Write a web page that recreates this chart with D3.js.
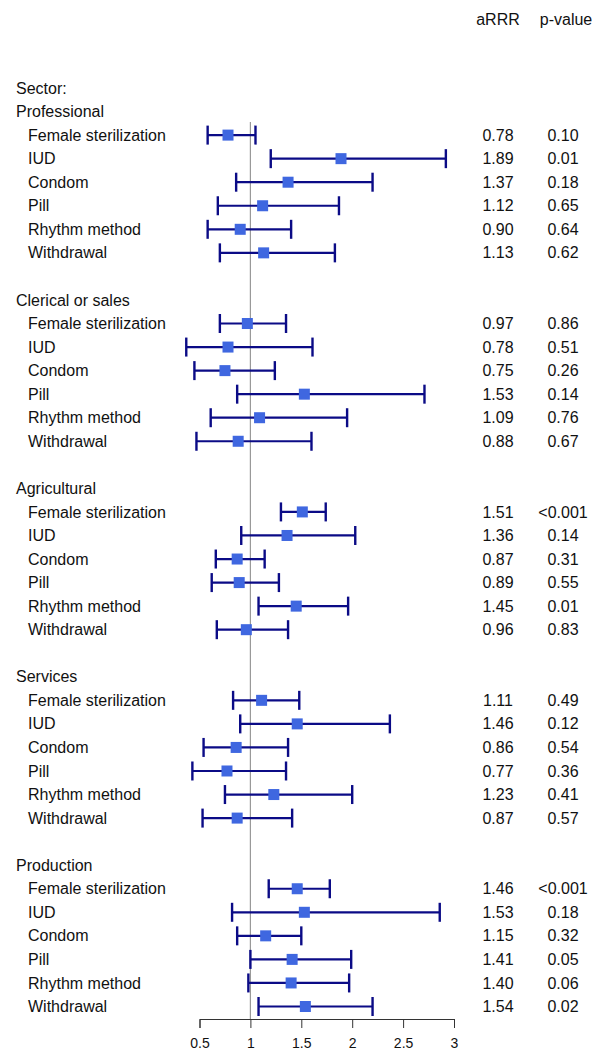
<!DOCTYPE html>
<html>
<head>
<meta charset="utf-8">
<script src="https://cdn.jsdelivr.net/npm/d3@7"></script>
<style>
  body { margin: 0; background: #fff; }
  text { font-family: "Liberation Sans", Arial, sans-serif; fill: #111; }
</style>
</head>
<body>
<svg id="chart" width="592" height="1053"></svg>
<script>
// categories
const sectors = ["Professional", "Clerical or sales", "Agricultural", "Services", "Production"];
const methods = ["Female sterilization", "IUD", "Condom", "Pill", "Rhythm method", "Withdrawal"];
const xTicks = [0.5, 1, 1.5, 2, 2.5, 3];

// adjusted relative risk ratios, one array per sector (same order as methods)
const arrrProfessional = [0.78, 1.89, 1.37, 1.12, 0.90, 1.13];
const arrrClerical     = [0.97, 0.78, 0.75, 1.53, 1.09, 0.88];
const arrrAgricultural = [1.51, 1.36, 0.87, 0.89, 1.45, 0.96];
const arrrServices     = [1.11, 1.46, 0.86, 0.77, 1.23, 0.87];
const arrrProduction   = [1.46, 1.53, 1.15, 1.41, 1.40, 1.54];

// 95% CI lower bounds
const loProfessional = [0.58, 1.20, 0.86, 0.68, 0.58, 0.70];
const loClerical     = [0.70, 0.37, 0.45, 0.87, 0.61, 0.47];
const loAgricultural = [1.30, 0.91, 0.66, 0.62, 1.08, 0.67];
const loServices     = [0.83, 0.90, 0.54, 0.43, 0.75, 0.53];
const loProduction   = [1.18, 0.82, 0.87, 1.00, 0.98, 1.08];

// 95% CI upper bounds
const hiProfessional = [1.05, 2.92, 2.20, 1.87, 1.40, 1.83];
const hiClerical     = [1.35, 1.61, 1.24, 2.71, 1.95, 1.60];
const hiAgricultural = [1.74, 2.03, 1.14, 1.28, 1.96, 1.37];
const hiServices     = [1.48, 2.37, 1.37, 1.35, 2.00, 1.41];
const hiProduction   = [1.78, 2.86, 1.50, 1.99, 1.97, 2.20];

// p-values
const pProfessional = ["0.10", "0.01", "0.18", "0.65", "0.64", "0.62"];
const pClerical     = ["0.86", "0.51", "0.26", "0.14", "0.76", "0.67"];
const pAgricultural = ["<0.001", "0.14", "0.31", "0.55", "0.01", "0.83"];
const pServices     = ["0.49", "0.12", "0.54", "0.36", "0.41", "0.57"];
const pProduction   = ["<0.001", "0.18", "0.32", "0.05", "0.06", "0.02"];

const arrrAll = [arrrProfessional, arrrClerical, arrrAgricultural, arrrServices, arrrProduction];
const loAll = [loProfessional, loClerical, loAgricultural, loServices, loProduction];
const hiAll = [hiProfessional, hiClerical, hiAgricultural, hiServices, hiProduction];
const pAll = [pProfessional, pClerical, pAgricultural, pServices, pProduction];

// build rows: "Sector:" line, then each sector header + its 6 methods, blank line between sectors
let headers = [{ row: 0, label: "Sector:" }];
let rows = [];
sectors.forEach(function(s, g) {
    let start = 1 + g * 8;
    headers.push({ row: start, label: s });
    methods.forEach(function(m, i) {
        rows.push({
            row: start + 1 + i,
            label: m,
            est: arrrAll[g][i],
            lo: loAll[g][i],
            hi: hiAll[g][i],
            p: pAll[g][i]
        });
    });
});
let lastRow = d3.max(rows, d => d.row);

let svg = d3.select("#chart");

let xScale = d3.scaleLinear().domain([0.5, 3]).range([199.5, 454]);
let yScale = d3.scaleLinear().domain([0, lastRow]).range([88, 1006.5]);

let axisY = 1019;

// reference line at 1
svg.append("line")
    .attr("x1", xScale(1)).attr("x2", xScale(1))
    .attr("y1", 122).attr("y2", axisY)
    .attr("stroke", "#999").attr("stroke-width", 1.2);

// column headers
svg.append("text").attr("x", 498).attr("y", 19).attr("dy", "0.35em")
    .attr("text-anchor", "middle").style("font-size", "16px").text("aRRR");
svg.append("text").attr("x", 566).attr("y", 19).attr("dy", "0.35em")
    .attr("text-anchor", "middle").style("font-size", "16px").text("p-value");

// sector headers
svg.selectAll(".hdr")
    .data(headers)
    .enter()
    .append("text")
    .attr("class", "hdr")
    .attr("x", 16)
    .attr("y", d => yScale(d.row))
    .attr("dy", "0.35em")
    .style("font-size", "16px")
    .text(d => d.label);

// method labels
svg.selectAll(".lbl")
    .data(rows)
    .enter()
    .append("text")
    .attr("class", "lbl")
    .attr("x", 28)
    .attr("y", d => yScale(d.row))
    .attr("dy", "0.35em")
    .style("font-size", "16px")
    .text(d => d.label);

// CI lines
let ci = svg.append("g").attr("stroke", "#0b0b86").attr("fill", "none");
ci.selectAll(".ci")
    .data(rows)
    .enter()
    .append("line")
    .attr("x1", d => xScale(d.lo)).attr("x2", d => xScale(d.hi))
    .attr("y1", d => yScale(d.row)).attr("y2", d => yScale(d.row))
    .attr("stroke-width", 2.2);

// caps
["lo", "hi"].forEach(function(k) {
    ci.selectAll(".cap-" + k)
        .data(rows)
        .enter()
        .append("line")
        .attr("x1", d => xScale(d[k])).attr("x2", d => xScale(d[k]))
        .attr("y1", d => yScale(d.row) - 9.5).attr("y2", d => yScale(d.row) + 9.5)
        .attr("stroke-width", 2.4);
});

// point estimates
let sq = 11;
svg.selectAll(".pt")
    .data(rows)
    .enter()
    .append("rect")
    .attr("x", d => xScale(d.est) - sq / 2)
    .attr("y", d => yScale(d.row) - sq / 2)
    .attr("width", sq).attr("height", sq)
    .attr("fill", "#3f67e0");

// value columns
svg.selectAll(".val")
    .data(rows)
    .enter()
    .append("text")
    .attr("x", 498)
    .attr("y", d => yScale(d.row))
    .attr("dy", "0.35em")
    .attr("text-anchor", "middle")
    .style("font-size", "16px")
    .text(d => d.est.toFixed(2));

svg.selectAll(".pv")
    .data(rows)
    .enter()
    .append("text")
    .attr("x", 563)
    .attr("y", d => yScale(d.row))
    .attr("dy", "0.35em")
    .attr("text-anchor", "middle")
    .style("font-size", "16px")
    .text(d => d.p);

// x axis
let xAxis = d3.axisBottom(xScale).tickValues(xTicks).tickSizeOuter(0).tickSize(9).tickPadding(10)
    .tickFormat(d3.format("~g"));
let ax = svg.append("g")
    .attr("transform", "translate(0," + axisY + ")")
    .call(xAxis);
ax.select(".domain").attr("stroke", "#333");
ax.selectAll(".tick line").attr("stroke", "#333");
ax.selectAll(".tick text")
    .style("font-size", "14px")
    .style("font-family", "\"Liberation Sans\", Arial, sans-serif")
    .attr("fill", "#111");
</script>
</body>
</html>
